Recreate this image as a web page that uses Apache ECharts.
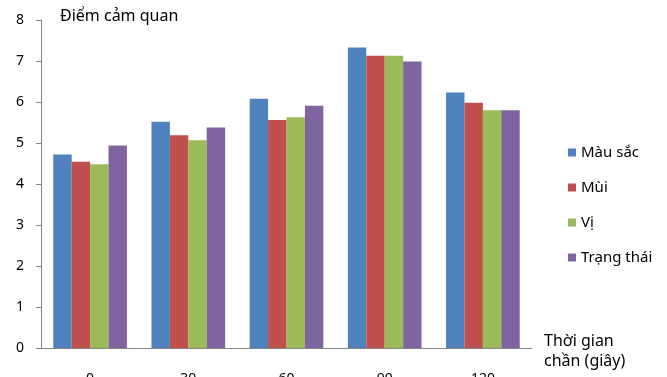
<!DOCTYPE html>
<html>
<head>
<meta charset="utf-8">
<script src="https://cdn.jsdelivr.net/npm/echarts@6/dist/echarts.min.js"></script>
<style>
  html, body { margin: 0; padding: 0; background: #fff; }
  #chart { width: 667px; height: 377px; }
</style>
</head>
<body>
<div id="chart"></div>
<script>
// Blanching time (seconds) on the category axis
const categories = ['0', '30', '60', '90', '120'];

// Sensory scores per attribute
const mauSac    = [4.72, 5.52, 6.08, 7.33, 6.23];
const mui       = [4.54, 5.19, 5.56, 7.13, 5.98];
const vi        = [4.48, 5.07, 5.63, 7.13, 5.80];
const trangThai = [4.94, 5.38, 5.91, 6.99, 5.80];

const seriesNames = ['Màu sắc', 'Mùi', 'Vị', 'Trạng thái'];
const seriesData = [mauSac, mui, vi, trangThai];
const colors = ['#4F81BD', '#C0504D', '#9BBB59', '#8064A2'];

const font = '"Noto Sans", "DejaVu Sans", sans-serif';

const chart = echarts.init(document.getElementById('chart'));
chart.setOption({
  animation: false,
  color: colors,
  title: {
    text: 'Điểm cảm quan',
    left: 55,
    top: 3,
    textStyle: { fontFamily: font, fontSize: 16, fontWeight: 'normal', color: '#000' }
  },
  legend: {
    orient: 'vertical',
    left: 563,
    top: 140,
    itemWidth: 8,
    itemHeight: 8,
    itemGap: 20,
    icon: 'rect',
    data: seriesNames,
    textStyle: { fontFamily: font, fontSize: 15, color: '#000', padding: [0, 0, 0, 0] }
  },
  // x-axis title, two lines to the right of the axis end
  graphic: [{
    type: 'text',
    left: 544,
    top: 331,
    style: {
      text: 'Thời gian\nchần (giây)',
      font: '16px ' + font,
      fill: '#000',
      lineHeight: 20
    }
  }],
  grid: { left: 41, right: 135, top: 20, bottom: 29, containLabel: false, outerBoundsMode: 'none' },
  xAxis: {
    type: 'category',
    data: categories,
    axisLine: { lineStyle: { color: '#868686', width: 1 } },
    axisTick: { show: false },
    axisLabel: { fontFamily: font, fontSize: 14, color: '#000', margin: 24 }
  },
  yAxis: {
    type: 'value',
    min: 0,
    max: 8,
    interval: 1,
    axisLine: { show: true, lineStyle: { color: '#868686', width: 1 } },
    axisTick: { show: true, length: 5, lineStyle: { color: '#868686' } },
    splitLine: { show: false },
    axisLabel: { fontFamily: font, fontSize: 14, color: '#000', margin: 17 }
  },
  series: seriesData.map((d, i) => ({
    name: seriesNames[i],
    type: 'bar',
    data: d,
    barGap: '0%',
    barCategoryGap: '25%',
    itemStyle: { color: colors[i] }
  }))
});
</script>
</body>
</html>
